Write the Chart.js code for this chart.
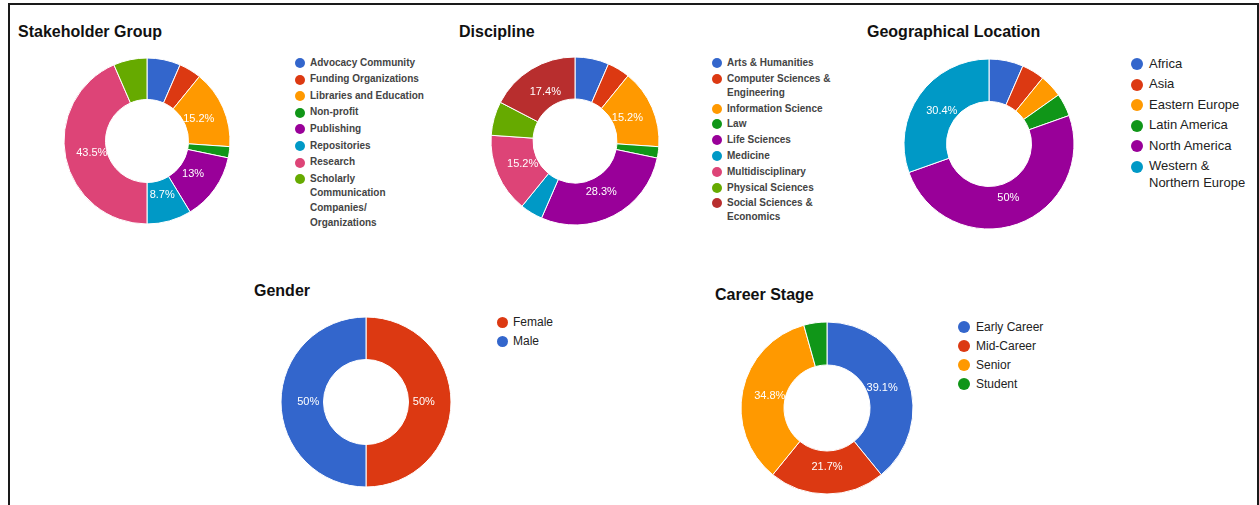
<!DOCTYPE html>
<html>
<head>
<meta charset="utf-8">
<title>Survey respondents</title>
<script src="https://cdn.jsdelivr.net/npm/chart.js@4"></script>
<style>
  body { margin: 0; width: 1259px; height: 505px; background: #fff; position: relative; overflow: hidden;
         font-family: Arial, "Liberation Sans", sans-serif; }
  .frame { position: absolute; left: 8px; top: 3px; width: 1247px; height: 540px; border: 2px solid #1a1a1a; }
  .title { position: absolute; font-weight: bold; font-size: 16px; line-height: 16px; color: #111; white-space: nowrap; }
  canvas { position: absolute; }
  .legend { position: absolute; }
  .legend .item { display: flex; align-items: flex-start; }
  .legend .dot { border-radius: 50%; flex: none; }
  .legend .txt { white-space: pre; }
</style>
</head>
<body>
<div class="frame"></div>

<script>
// data (respondent counts, n = 46)
const stakeholderLabels = ["Advocacy Community", "Funding Organizations", "Libraries and Education", "Non-profit",
  "Publishing", "Repositories", "Research", "Scholarly\nCommunication\nCompanies/\nOrganizations"];
const stakeholderCounts = [3, 2, 7, 1, 6, 4, 20, 3];

const disciplineLabels = ["Arts & Humanities", "Computer Sciences &\nEngineering", "Information Science", "Law",
  "Life Sciences", "Medicine", "Multidisciplinary", "Physical Sciences", "Social Sciences &\nEconomics"];
const disciplineCounts = [3, 2, 7, 1, 13, 2, 7, 3, 8];

const locationLabels = ["Africa", "Asia", "Eastern Europe", "Latin America", "North America", "Western &\nNorthern Europe"];
const locationCounts = [3, 2, 2, 2, 23, 14];

const genderLabels = ["Female", "Male"];
const genderCounts = [23, 23];

const careerLabels = ["Early Career", "Mid-Career", "Senior", "Student"];
const careerCounts = [18, 10, 16, 2];

const palette = ["#3366cc", "#dc3912", "#ff9900", "#109618", "#990099", "#0099c6", "#dd4477", "#66aa00", "#b82e2e"];

function pct(share) {
  return (+(share * 100).toFixed(1)) + "%";
}

// percent text inside the bigger slices
const sliceLabels = {
  id: "sliceLabels",
  afterDatasetsDraw(chart) {
    const ctx = chart.ctx;
    const values = chart.data.datasets[0].data;
    const total = values.reduce((a, b) => a + b, 0);
    chart.getDatasetMeta(0).data.forEach((arc, i) => {
      const share = values[i] / total;
      if (share < 0.08) return;
      const mid = (arc.startAngle + arc.endAngle) / 2;
      const r = arc.outerRadius * 0.68;
      ctx.save();
      ctx.fillStyle = "#fff";
      ctx.font = "11px Arial, 'Liberation Sans', sans-serif";
      ctx.textAlign = "center";
      ctx.textBaseline = "middle";
      ctx.fillText(pct(share), arc.x + Math.cos(mid) * r, arc.y + Math.sin(mid) * r);
      ctx.restore();
    });
  }
};

function addTitle(text, x, top) {
  const el = document.createElement("div");
  el.className = "title";
  el.textContent = text;
  el.style.left = x + "px";
  el.style.top = top + "px";
  document.body.appendChild(el);
}

function addLegend(labels, colors, o) {
  const box = document.createElement("div");
  box.className = "legend";
  box.style.left = o.x + "px";
  box.style.top = (o.y - o.lh / 2) + "px";
  labels.forEach((label, i) => {
    const item = document.createElement("div");
    item.className = "item";
    item.style.marginBottom = o.gap + "px";
    const dot = document.createElement("span");
    dot.className = "dot";
    dot.style.width = dot.style.height = o.dot + "px";
    dot.style.marginTop = ((o.lh - o.dot) / 2) + "px";
    dot.style.marginRight = o.space + "px";
    dot.style.background = colors[i];
    const txt = document.createElement("span");
    txt.className = "txt";
    txt.textContent = label;
    txt.style.font = o.font;
    txt.style.lineHeight = o.lh + "px";
    txt.style.color = o.color;
    item.appendChild(dot);
    item.appendChild(txt);
    box.appendChild(item);
  });
  document.body.appendChild(box);
}

function addDonut(labels, values, colors, cx, cy, r) {
  const canvas = document.createElement("canvas");
  const size = 2 * (r + 2);
  canvas.width = size;
  canvas.height = size;
  canvas.style.left = (cx - size / 2) + "px";
  canvas.style.top = (cy - size / 2) + "px";
  document.body.appendChild(canvas);
  return new Chart(canvas.getContext("2d"), {
    type: "doughnut",
    data: {
      labels: labels,
      datasets: [{
        data: values,
        backgroundColor: colors,
        borderColor: "#fff",
        borderWidth: 1
      }]
    },
    options: {
      responsive: false,
      animation: false,
      radius: r,
      cutout: "50%",
      plugins: { legend: { display: false }, tooltip: { enabled: false } }
    },
    plugins: [sliceLabels]
  });
}

const smallLegend = { dot: 10, space: 5, font: "bold 10px Arial, 'Liberation Sans', sans-serif", color: "#444" };

// Stakeholder Group
addTitle("Stakeholder Group", 18, 24);
addDonut(stakeholderLabels, stakeholderCounts, palette, 147, 141, 83);
addLegend(stakeholderLabels, palette, Object.assign({ x: 295, y: 63, lh: 14.6, gap: 2 }, smallLegend));

// Discipline
addTitle("Discipline", 459, 24);
addDonut(disciplineLabels, disciplineCounts, palette, 575, 141, 84);
addLegend(disciplineLabels, palette, Object.assign({ x: 712, y: 63, lh: 14, gap: 1.8 }, smallLegend));

// Geographical Location
addTitle("Geographical Location", 867, 24);
addDonut(locationLabels, locationCounts, palette, 989, 144, 85);
addLegend(locationLabels, palette, { x: 1131, y: 64, lh: 16.5, gap: 4, dot: 12, space: 6,
  font: "13px Arial, 'Liberation Sans', sans-serif", color: "#222" });

// Gender
addTitle("Gender", 254, 283);
addDonut(genderLabels, genderCounts, ["#dc3912", "#3366cc"], 366, 402, 85);
addLegend(genderLabels, ["#dc3912", "#3366cc"], { x: 497, y: 322, lh: 15, gap: 4, dot: 11, space: 5,
  font: "12px Arial, 'Liberation Sans', sans-serif", color: "#222" });

// Career Stage
addTitle("Career Stage", 715, 287);
addDonut(careerLabels, careerCounts, palette, 827, 408, 86);
addLegend(careerLabels, palette, { x: 958, y: 327, lh: 15, gap: 4, dot: 12, space: 6,
  font: "12px Arial, 'Liberation Sans', sans-serif", color: "#222" });
</script>
</body>
</html>
